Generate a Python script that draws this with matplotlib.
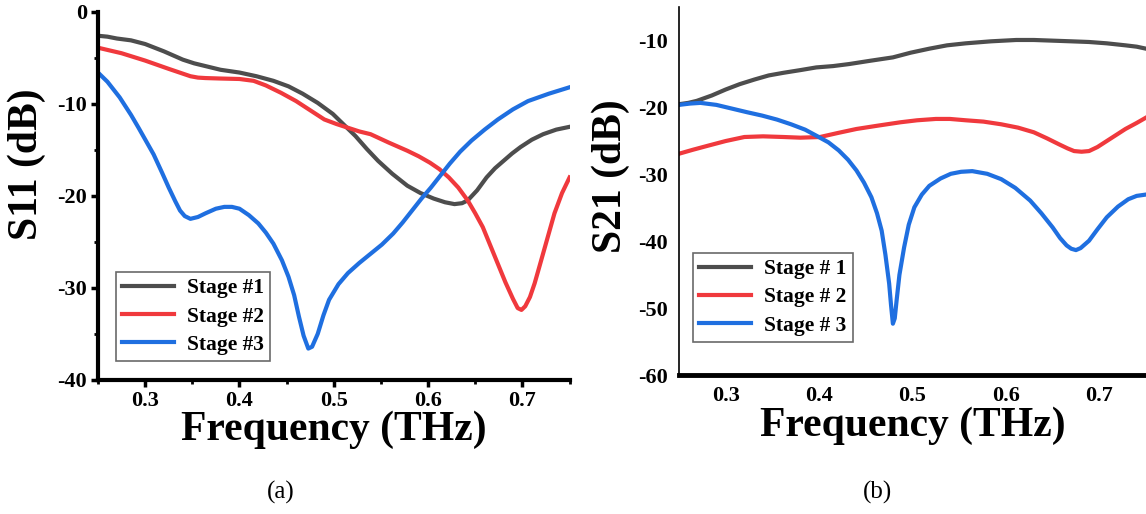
import matplotlib.pyplot as plt
from matplotlib.ticker import MultipleLocator

# ---- panel (a): S11 ----
a_freq1 = [0.25, 0.26, 0.27, 0.285, 0.30, 0.32, 0.34, 0.352, 0.364, 0.38, 0.40, 0.418,
           0.436, 0.452, 0.467, 0.483, 0.499, 0.511, 0.523, 0.535, 0.547, 0.562,
           0.578, 0.592, 0.606, 0.618, 0.628, 0.636, 0.642, 0.652, 0.662, 0.671,
           0.680, 0.689, 0.698, 0.71, 0.722, 0.736, 0.75]
a_s1 = [-2.6, -2.7, -2.9, -3.1, -3.5, -4.3, -5.2, -5.6, -5.9, -6.3, -6.6, -7.0,
        -7.5, -8.1, -8.9, -9.9, -11.1, -12.3, -13.5, -14.9, -16.2, -17.6,
        -18.9, -19.7, -20.3, -20.7, -20.9, -20.8, -20.5, -19.4, -18.0, -17.0,
        -16.2, -15.4, -14.7, -13.9, -13.3, -12.8, -12.5]

a_freq2 = [0.25, 0.275, 0.30, 0.325, 0.348, 0.356, 0.364, 0.38, 0.40, 0.415, 0.428,
           0.444, 0.46, 0.475, 0.49, 0.503, 0.515, 0.527, 0.539, 0.558, 0.578,
           0.59, 0.602, 0.612, 0.622, 0.632, 0.642, 0.65, 0.658, 0.666, 0.674,
           0.682, 0.69, 0.695, 0.699, 0.703, 0.708, 0.713, 0.718, 0.726, 0.734,
           0.742, 0.75]
a_s2 = [-3.9, -4.5, -5.3, -6.2, -7.0, -7.15, -7.2, -7.25, -7.3, -7.5, -8.0,
        -8.8, -9.7, -10.7, -11.7, -12.2, -12.6, -13.0, -13.3, -14.2, -15.1,
        -15.7, -16.4, -17.1, -18.0, -19.1, -20.5, -21.9, -23.4, -25.4, -27.4,
        -29.4, -31.2, -32.2, -32.4, -32.0, -31.0, -29.5, -27.7, -24.8, -21.9,
        -19.7, -18.0]

a_freq3 = [0.25, 0.26, 0.273, 0.285, 0.293, 0.309, 0.318, 0.325, 0.332, 0.337,
           0.342, 0.348, 0.356, 0.364, 0.375, 0.384, 0.392, 0.40, 0.41, 0.42,
           0.428, 0.436, 0.445, 0.452, 0.458, 0.463, 0.468, 0.473, 0.477, 0.483,
           0.489, 0.495, 0.505, 0.515, 0.527, 0.539, 0.551, 0.563, 0.573, 0.583,
           0.593, 0.603, 0.613, 0.623, 0.634, 0.646, 0.66, 0.674, 0.69, 0.706,
           0.728, 0.75]
a_s3 = [-6.6, -7.6, -9.3, -11.2, -12.6, -15.5, -17.5, -19.1, -20.6, -21.6,
        -22.2, -22.5, -22.3, -21.9, -21.4, -21.2, -21.2, -21.4, -22.1, -23.0,
        -24.0, -25.2, -27.0, -28.8, -30.8, -33.1, -35.2, -36.6, -36.4, -35.0,
        -33.0, -31.3, -29.6, -28.4, -27.3, -26.3, -25.3, -24.1, -22.9, -21.6,
        -20.3, -19.1, -17.8, -16.5, -15.2, -14.0, -12.8, -11.7, -10.6, -9.7,
        -8.9, -8.2]

# ---- panel (b): S21 ----
b_freq1 = [0.25, 0.26, 0.269, 0.285, 0.30, 0.315, 0.331, 0.346, 0.362, 0.38, 0.397,
           0.415, 0.432, 0.455, 0.479, 0.498, 0.518, 0.537, 0.557, 0.584, 0.611,
           0.63, 0.65, 0.67, 0.689, 0.708, 0.728, 0.74, 0.75]
b_s1 = [-19.5, -19.3, -19.0, -18.2, -17.3, -16.5, -15.8, -15.2, -14.8, -14.4, -14.0,
        -13.8, -13.5, -13.0, -12.5, -11.8, -11.2, -10.7, -10.4, -10.1, -9.9,
        -9.9, -10.0, -10.1, -10.2, -10.4, -10.7, -10.9, -11.2]

b_freq2 = [0.25, 0.265, 0.281, 0.30, 0.32, 0.34, 0.362, 0.38, 0.401, 0.42, 0.44,
           0.463, 0.487, 0.505, 0.525, 0.54, 0.557, 0.576, 0.595, 0.613, 0.63,
           0.644, 0.657, 0.666, 0.673, 0.681, 0.689, 0.698, 0.708, 0.718, 0.728,
           0.74, 0.75]
b_s2 = [-26.9, -26.3, -25.7, -25.0, -24.4, -24.3, -24.4, -24.5, -24.4, -23.8, -23.2,
        -22.7, -22.2, -21.9, -21.7, -21.7, -21.9, -22.1, -22.5, -23.0, -23.7,
        -24.6, -25.5, -26.1, -26.5, -26.6, -26.5, -25.9, -25.0, -24.1, -23.2,
        -22.3, -21.5]

b_freq3 = [0.25, 0.262, 0.273, 0.29, 0.308, 0.323, 0.339, 0.355, 0.37, 0.385,
           0.397, 0.41, 0.421, 0.431, 0.44, 0.448, 0.456, 0.462, 0.467, 0.471,
           0.475, 0.477, 0.479, 0.481, 0.483, 0.486, 0.491, 0.496, 0.502, 0.51,
           0.518, 0.53, 0.541, 0.552, 0.564, 0.58, 0.595, 0.61, 0.626, 0.638,
           0.65, 0.658, 0.665, 0.67, 0.675, 0.68, 0.689, 0.698, 0.708, 0.72,
           0.731, 0.74, 0.75]
b_s3 = [-19.6, -19.4, -19.3, -19.6, -20.2, -20.7, -21.2, -21.8, -22.5, -23.3,
        -24.2, -25.2, -26.4, -27.8, -29.4, -31.2, -33.4, -35.8, -38.4, -42.0,
        -46.3, -49.5, -52.3, -51.5, -48.8, -45.0, -40.9, -37.5, -34.9, -33.0,
        -31.7, -30.6, -29.9, -29.6, -29.5, -29.9, -30.7, -32.0, -33.9, -35.8,
        -37.9, -39.5, -40.6, -41.1, -41.3, -41.0, -39.9, -38.2, -36.4, -34.8,
        -33.7, -33.2, -33.0]

c_gray = '#4d4d4d'
c_red = '#f0393d'
c_blue = '#1f6fe0'

plt.rcParams['font.family'] = ['Liberation Serif', 'DejaVu Serif']
plt.rcParams['font.weight'] = 'bold'
plt.rcParams['axes.unicode_minus'] = False
plt.rcParams['lines.solid_joinstyle'] = 'round'

fig = plt.figure(figsize=(11.46, 5.14), dpi=100)

# panel (a)
ax1 = fig.add_axes([0.0855, 0.261, 0.4115, 0.716])
ax1.plot(a_freq1, a_s1, color=c_gray, lw=3, label='Stage #1')
ax1.plot(a_freq2, a_s2, color=c_red, lw=3, label='Stage #2')
ax1.plot(a_freq3, a_s3, color=c_blue, lw=3, label='Stage #3')
ax1.set_xlim(0.25, 0.75)
ax1.set_ylim(-40, 0)
ax1.xaxis.set_minor_locator(MultipleLocator(0.05))
ax1.yaxis.set_major_locator(MultipleLocator(10))
ax1.yaxis.set_minor_locator(MultipleLocator(5))
ax1.set_xticks([0.3, 0.4, 0.5, 0.6, 0.7])
ax1.set_xticklabels(['0.3', '0.4', '0.5', '0.6', '0.7'])
for s in ['top', 'right']:
    ax1.spines[s].set_visible(False)
for s in ['left', 'bottom']:
    ax1.spines[s].set_linewidth(3)
ax1.tick_params(which='major', length=5, width=2.5, labelsize=16, pad=3)
ax1.tick_params(which='minor', length=3, width=2)
ax1.set_xlabel('Frequency (THz)', fontsize=30, fontweight='bold', labelpad=0)
ax1.set_ylabel('S11 (dB)', fontsize=30, fontweight='bold', labelpad=2)
ax1.yaxis.set_label_coords(-0.11, 0.585)
leg1 = ax1.legend(loc='lower left', bbox_to_anchor=(0.038, 0.05), fontsize=15.5,
                  frameon=True, fancybox=False, edgecolor='#444444',
                  handlelength=2.4, borderpad=0.3, labelspacing=0.38,
                  handletextpad=0.6, borderaxespad=0)
leg1.get_frame().set_linewidth(1.2)

# panel (b)
ax2 = fig.add_axes([0.5925, 0.27, 0.4075, 0.716])
ax2.plot(b_freq1, b_s1, color=c_gray, lw=3, label='Stage # 1')
ax2.plot(b_freq2, b_s2, color=c_red, lw=3, label='Stage # 2')
ax2.plot(b_freq3, b_s3, color=c_blue, lw=3, label='Stage # 3')
ax2.set_xlim(0.25, 0.75)
ax2.set_ylim(-60, -5)
ax2.set_xticks([0.3, 0.4, 0.5, 0.6, 0.7])
ax2.set_xticklabels(['0.3', '0.4', '0.5', '0.6', '0.7'])
ax2.set_yticks([-10, -20, -30, -40, -50, -60])
for s in ['top', 'right']:
    ax2.spines[s].set_visible(False)
ax2.spines['left'].set_linewidth(1.2)
ax2.spines['bottom'].set_linewidth(3.5)
ax2.tick_params(length=0, labelsize=16, pad=8)
ax2.set_xlabel('Frequency (THz)', fontsize=30, fontweight='bold', labelpad=0)
ax2.set_ylabel('S21 (dB)', fontsize=30, fontweight='bold', labelpad=4)
ax2.yaxis.set_label_coords(-0.105, 0.54)
leg2 = ax2.legend(loc='lower left', bbox_to_anchor=(0.03, 0.09), fontsize=15.5,
                  frameon=True, fancybox=False, edgecolor='#444444',
                  handlelength=2.4, borderpad=0.3, labelspacing=0.38,
                  handletextpad=0.6, borderaxespad=0)
leg2.get_frame().set_linewidth(1.2)

fig.text(0.245, 0.03, '(a)', fontsize=18, fontweight='normal', ha='center')
fig.text(0.766, 0.03, '(b)', fontsize=18, fontweight='normal', ha='center')

fig.savefig('out.png', dpi=100)
